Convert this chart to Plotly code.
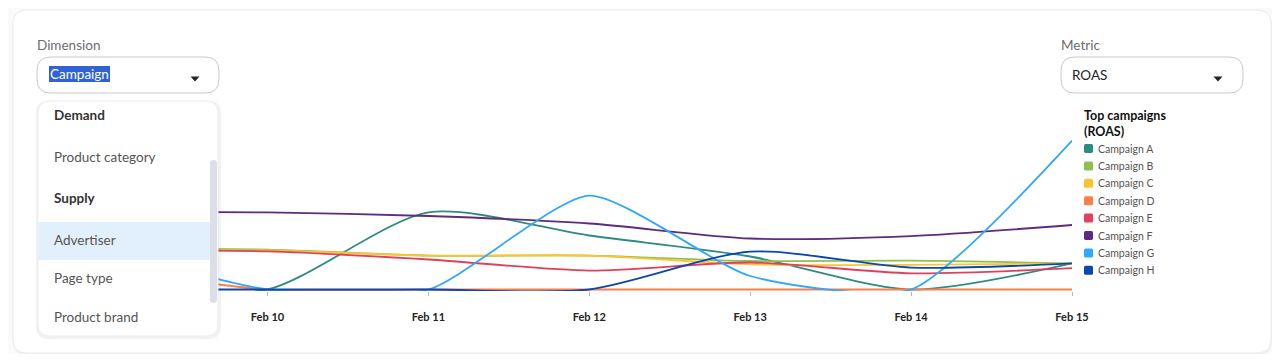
import plotly.graph_objects as go

# ---------------- data ----------------
dates = ["2024-02-09", "2024-02-10", "2024-02-11", "2024-02-12",
         "2024-02-13", "2024-02-14", "2024-02-15"]
campaigns = ["Campaign A", "Campaign B", "Campaign C", "Campaign D",
             "Campaign E", "Campaign F", "Campaign G", "Campaign H"]
colors = ["#2e8b80", "#8cc152", "#fbc531", "#ff7f45",
          "#e0405e", "#5e2b80", "#2fa8ff", "#0a47b0"]
roas_a = [0.00, 0.00, 2.57, 1.80, 1.10, 0.00, 0.87]
roas_b = [1.37, 1.33, 1.13, 1.13, 0.95, 0.96, 0.87]
roas_c = [1.33, 1.30, 1.13, 1.13, 0.84, 0.82, 0.87]
roas_d = [0.70, 0.00, 0.00, 0.00, 0.00, 0.00, 0.00]
roas_e = [1.30, 1.27, 1.00, 0.63, 0.90, 0.54, 0.71]
roas_f = [2.60, 2.57, 2.45, 2.20, 1.70, 1.78, 2.15]
roas_g = [1.35, 0.00, 0.00, 3.13, 0.45, 0.00, 4.96]
roas_h = [0.00, 0.00, 0.00, 0.00, 1.26, 0.73, 0.87]
series = [roas_a, roas_b, roas_c, roas_d, roas_e, roas_f, roas_g, roas_h]
smoothing = [0.75, 0.75, 0.75, 0.75, 0.75, 0.75, 0.6, 0.75]
tick_vals = dates[1:]
tick_text = ["Feb 10", "Feb 11", "Feb 12", "Feb 13", "Feb 14", "Feb 15"]
dimension_items = ["Demand", "Product category", "Supply", "Advertiser",
                   "Page type", "Product brand"]
dimension_bold = [True, False, True, False, False, False]
legend_title = "Top campaigns<br>(ROAS)"

# the page body has an 8px margin: the figure starts at (8, 8) in the window
OX, OY = 8, 8
W, H = 1264, 346
FONT = "Lato"


def X(px):
    return (px - OX) / W


def Y(py):
    return 1 - (py - OY) / H


def rrect(x0, y0, x1, y1, r):
    """rounded rectangle path (window pixel coords -> paper coords)"""
    pts = [
        ("M", (x0 + r, y0)), ("L", (x1 - r, y0)), ("Q", (x1, y0), (x1, y0 + r)),
        ("L", (x1, y1 - r)), ("Q", (x1, y1), (x1 - r, y1)),
        ("L", (x0 + r, y1)), ("Q", (x0, y1), (x0, y1 - r)),
        ("L", (x0, y0 + r)), ("Q", (x0, y0), (x0 + r, y0)),
    ]
    s = ""
    for p in pts:
        s += p[0] + " ".join(f"{X(a):.6f},{Y(b):.6f}" for a, b in p[1:]) + " "
    return s + "Z"


fig = go.Figure()
for name, col, vals, sm in zip(campaigns, colors, series, smoothing):
    fig.add_trace(go.Scatter(
        x=dates, y=vals, name=name, mode="lines",
        line=dict(color=col, width=1.8, shape="spline", smoothing=sm),
        showlegend=False, hoverinfo="skip"))

shapes = []
# page card + shadow
shapes.append(dict(type="path", path=rrect(13, 12, 1272, 355.5, 14), xref="paper", yref="paper",
                   fillcolor="rgba(0,0,0,0.035)", line=dict(width=0), layer="below"))
shapes.append(dict(type="path", path=rrect(13, 10, 1271, 353, 14), xref="paper", yref="paper",
                   fillcolor="#ffffff", line=dict(color="#ebeaf1", width=1), layer="below"))
# dropdown boxes
for x0 in (37, 1061):
    shapes.append(dict(type="path", path=rrect(x0, 57, x0 + 182, 93, 14), xref="paper", yref="paper",
                       fillcolor="#ffffff", line=dict(color="#c9c9cc", width=1), layer="above"))
# selection highlight on "Campaign"
shapes.append(dict(type="rect", x0=X(49), x1=X(110), y0=Y(82), y1=Y(66), xref="paper", yref="paper",
                   fillcolor="#2f62d6", line=dict(width=0), layer="above"))
# carets
for cx in (195, 1218):
    shapes.append(dict(type="path",
                       path=f"M{X(cx-4.5):.6f},{Y(76.5):.6f} L{X(cx+4.5):.6f},{Y(76.5):.6f} L{X(cx):.6f},{Y(81.5):.6f} Z",
                       xref="paper", yref="paper", fillcolor="#222222", line=dict(width=0), layer="above"))
# dropdown panel with shadow
shapes.append(dict(type="path", path=rrect(36, 101, 221, 339, 12), xref="paper", yref="paper",
                   fillcolor="rgba(0,0,0,0.05)", line=dict(width=0), layer="above"))
shapes.append(dict(type="path", path=rrect(38, 101, 218, 336, 12), xref="paper", yref="paper",
                   fillcolor="#ffffff", line=dict(color="#ecebf2", width=1), layer="above"))
shapes.append(dict(type="rect", x0=X(38.5), x1=X(211), y0=Y(260), y1=Y(222), xref="paper", yref="paper",
                   fillcolor="#e2f0fd", line=dict(width=0), layer="above"))
shapes.append(dict(type="path", path=rrect(210, 160, 217, 303, 3.5), xref="paper", yref="paper",
                   fillcolor="#dcdfe9", line=dict(width=0), layer="above"))

annotations = []


def txt(px, py, text, size=13, color="#444", bold=False):
    annotations.append(dict(x=X(px), y=Y(py), xref="paper", yref="paper", text=text,
                            showarrow=False, xanchor="left", yanchor="middle", align="left",
                            font=dict(family=FONT, size=size, color=color,
                                      weight="bold" if bold else "normal")))


txt(35, 45, "Dimension", 13.5, "#6c6c70")
txt(1059, 45, "Metric", 13.5, "#6c6c70")
txt(48, 74, "Campaign", 13.5, "#ffffff")
txt(1070, 75, "ROAS", 13.5, "#222222")

item_y = [115, 157, 198, 240, 278, 317]
for label, b, yy in zip(dimension_items, dimension_bold, item_y):
    txt(52, yy, label, 13.5, "#333333" if b else "#555555", bold=b)

# legend (built from campaign names / colours)
txt(1082, 123, legend_title, 12.5, "#111111", bold=True)
for i, (name, col) in enumerate(zip(campaigns, colors)):
    cy = 148.5 + i * 17.4
    shapes.append(dict(type="path", path=rrect(1084, cy - 4.5, 1093, cy + 4.5, 1.5), xref="paper", yref="paper",
                       fillcolor=col, line=dict(width=0), layer="above"))
    txt(1096, cy, name, 10.5, "#555555")

fig.update_layout(
    template="none",
    autosize=False,
    width=W, height=H,
    margin=dict(l=0, r=0, t=0, b=0, pad=0, autoexpand=False),
    paper_bgcolor="#fafafb",
    plot_bgcolor="rgba(0,0,0,0)",
    shapes=shapes,
    annotations=annotations,
    showlegend=False,
    xaxis=dict(
        domain=[X(106.6), X(1072)],
        range=[dates[0], dates[-1]],
        type="date", automargin=False,
        tickvals=tick_vals, ticktext=tick_text,
        ticks="outside", ticklen=4, tickcolor="#b8b8bc", tickwidth=1,
        showgrid=False, zeroline=False, showline=False,
        tickfont=dict(family=FONT, size=11, color="#222222", weight="bold"),
        ticklabelstandoff=12,
    ),
    yaxis=dict(
        domain=[Y(291), Y(127.5)],
        range=[-0.05, 5.4], automargin=False,
        showgrid=False, zeroline=False, showline=False, showticklabels=False, ticks="",
    ),
)

fig.write_html("out.html", config={"responsive": False})
